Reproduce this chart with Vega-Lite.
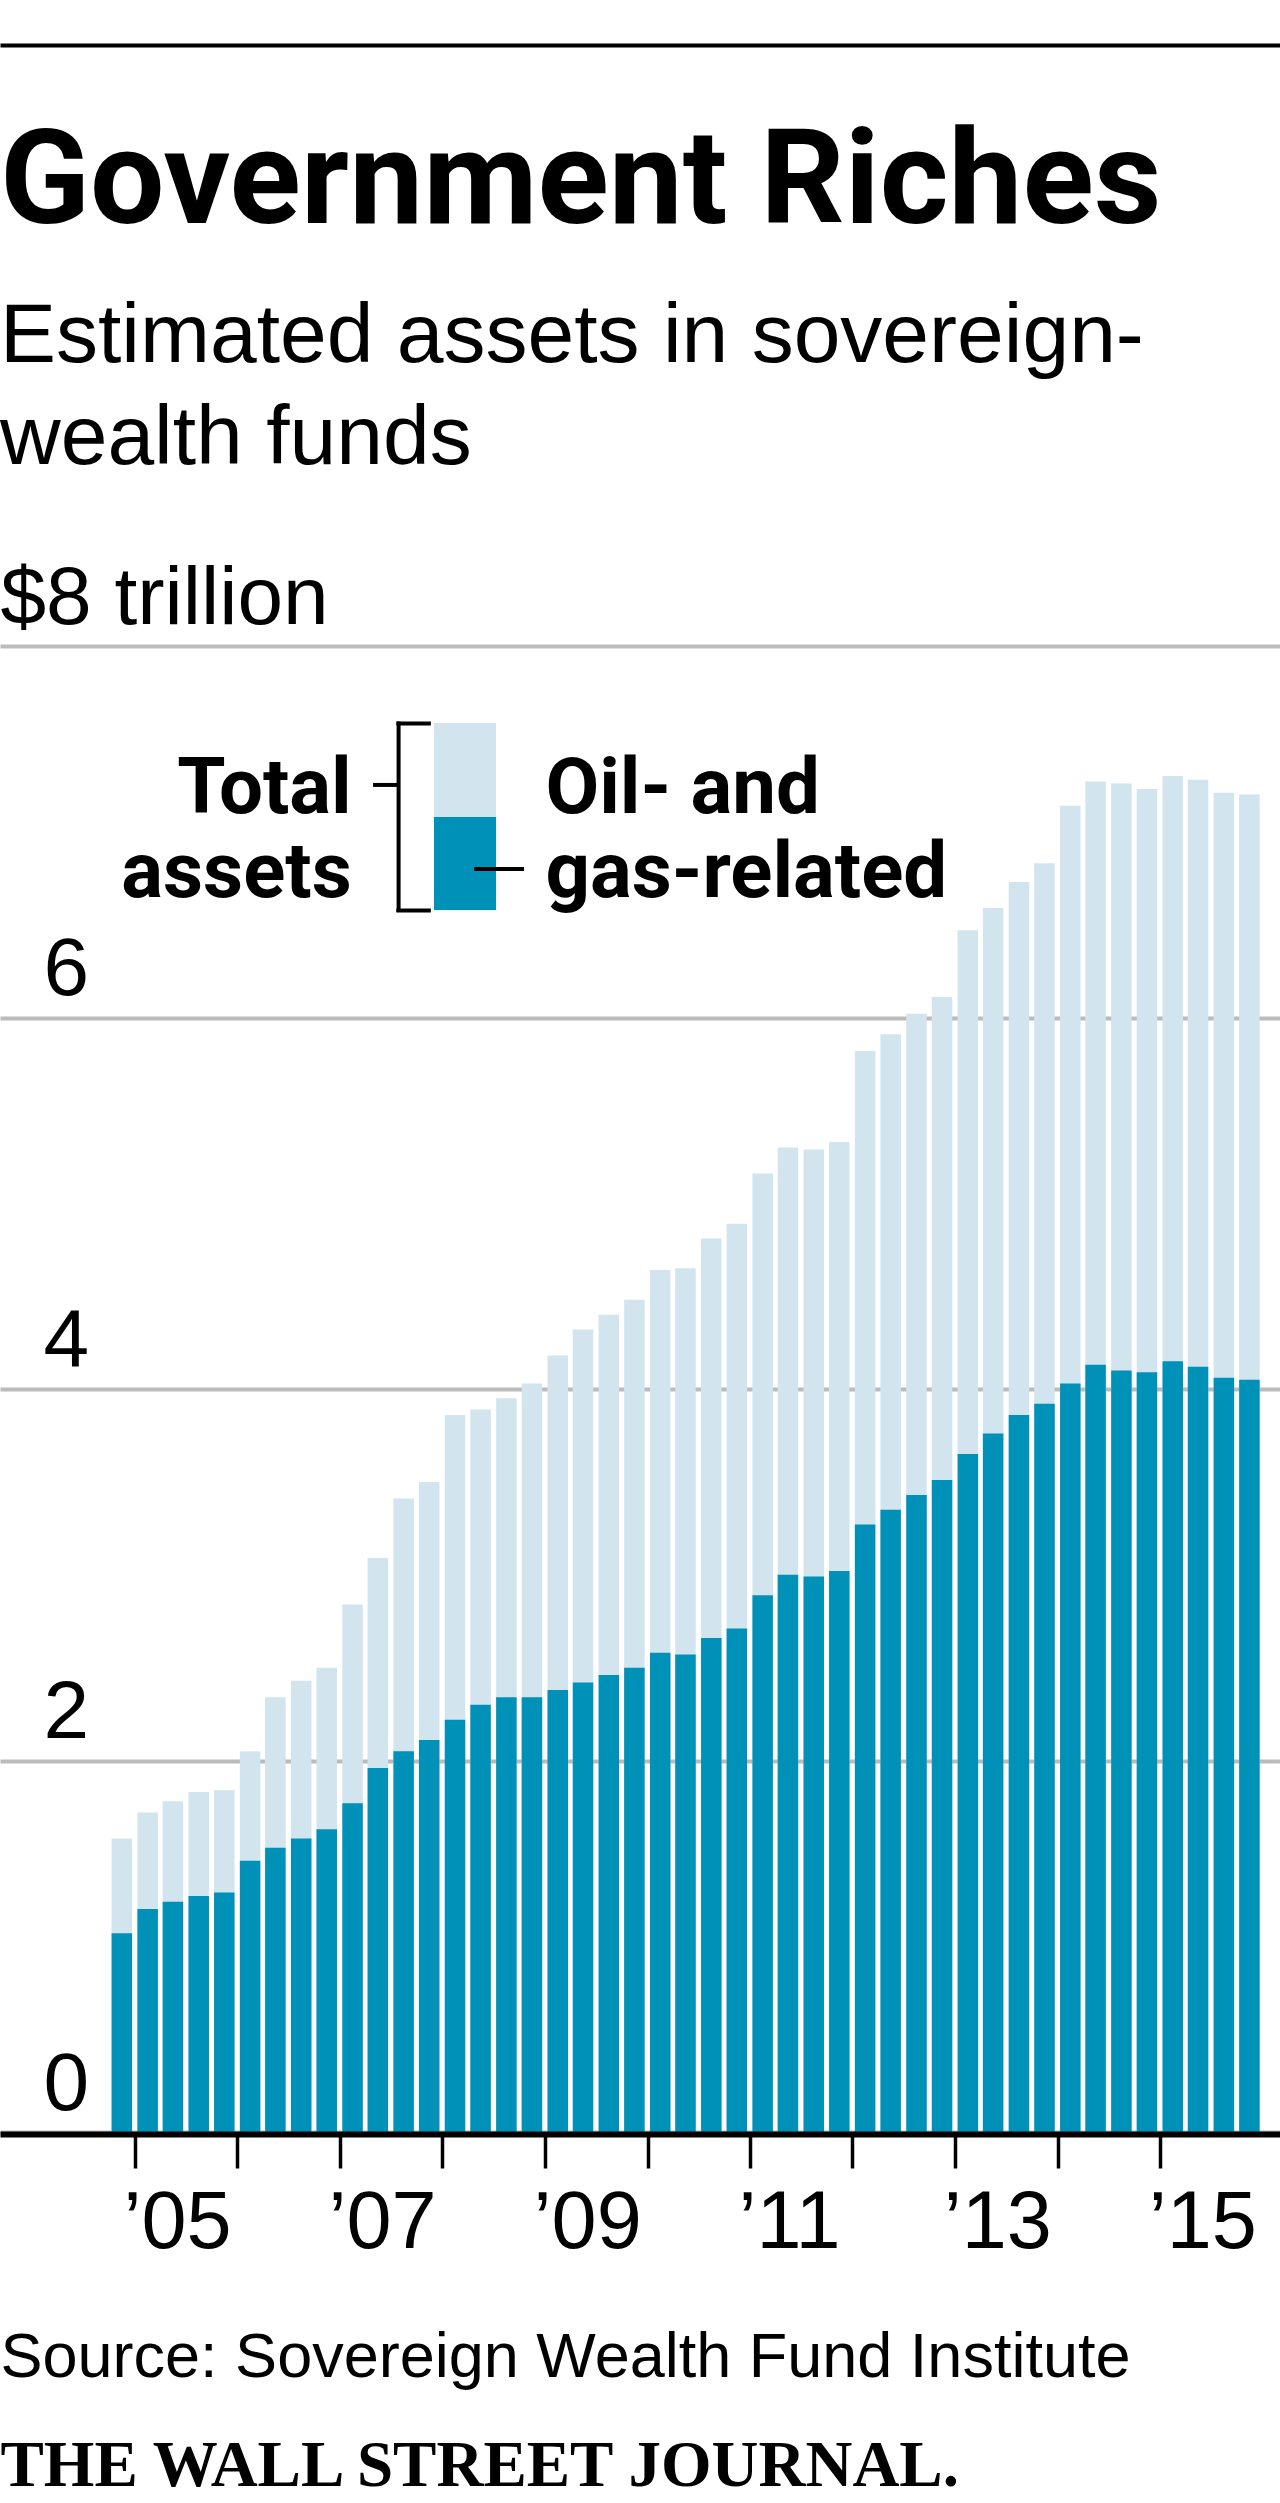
{
  "$schema": "https://vega.github.io/schema/vega-lite/v6.json",
  "width": 1280,
  "height": 1486,
  "autosize": {"type": "pad"},
  "padding": {"left": 0, "right": 0, "top": 45, "bottom": 0},
  "background": "white",
  "config": {"view": {"stroke": null}},
  "title": {
    "text": "Government Riches",
    "subtitle": ["Estimated assets in sovereign-", "wealth funds"],
    "anchor": "start",
    "frame": "group",
    "offset": -438,
    "font": "Roboto, Liberation Sans, sans-serif",
    "fontSize": 132,
    "fontWeight": "bold",
    "color": "black",
    "subtitleFont": "Liberation Sans, Arial, sans-serif",
    "subtitleFontSize": 84,
    "subtitleColor": "black",
    "subtitleLineHeight": 102,
    "subtitlePadding": 45
  },
  "data": {
    "values": [
      {"date": "2004-11-15", "total": 1.58, "oil": 1.07},
      {"date": "2005-02-15", "total": 1.72, "oil": 1.20},
      {"date": "2005-05-16", "total": 1.78, "oil": 1.24},
      {"date": "2005-08-16", "total": 1.83, "oil": 1.27},
      {"date": "2005-11-15", "total": 1.84, "oil": 1.29},
      {"date": "2006-02-15", "total": 2.05, "oil": 1.46},
      {"date": "2006-05-16", "total": 2.34, "oil": 1.53},
      {"date": "2006-08-16", "total": 2.43, "oil": 1.58},
      {"date": "2006-11-15", "total": 2.50, "oil": 1.63},
      {"date": "2007-02-15", "total": 2.84, "oil": 1.77},
      {"date": "2007-05-16", "total": 3.09, "oil": 1.96},
      {"date": "2007-08-16", "total": 3.41, "oil": 2.05},
      {"date": "2007-11-15", "total": 3.50, "oil": 2.11},
      {"date": "2008-02-15", "total": 3.86, "oil": 2.22},
      {"date": "2008-05-16", "total": 3.89, "oil": 2.30},
      {"date": "2008-08-16", "total": 3.95, "oil": 2.34},
      {"date": "2008-11-15", "total": 4.03, "oil": 2.34},
      {"date": "2009-02-15", "total": 4.18, "oil": 2.38},
      {"date": "2009-05-16", "total": 4.32, "oil": 2.42},
      {"date": "2009-08-16", "total": 4.40, "oil": 2.46},
      {"date": "2009-11-15", "total": 4.48, "oil": 2.50},
      {"date": "2010-02-15", "total": 4.64, "oil": 2.58},
      {"date": "2010-05-16", "total": 4.65, "oil": 2.57},
      {"date": "2010-08-16", "total": 4.81, "oil": 2.66},
      {"date": "2010-11-15", "total": 4.89, "oil": 2.71},
      {"date": "2011-02-15", "total": 5.16, "oil": 2.89},
      {"date": "2011-05-16", "total": 5.30, "oil": 3.00},
      {"date": "2011-08-16", "total": 5.29, "oil": 2.99},
      {"date": "2011-11-15", "total": 5.33, "oil": 3.02},
      {"date": "2012-02-15", "total": 5.82, "oil": 3.27},
      {"date": "2012-05-16", "total": 5.91, "oil": 3.35},
      {"date": "2012-08-16", "total": 6.02, "oil": 3.43},
      {"date": "2012-11-15", "total": 6.11, "oil": 3.51},
      {"date": "2013-02-15", "total": 6.47, "oil": 3.65},
      {"date": "2013-05-16", "total": 6.59, "oil": 3.76},
      {"date": "2013-08-16", "total": 6.73, "oil": 3.86},
      {"date": "2013-11-15", "total": 6.83, "oil": 3.92},
      {"date": "2014-02-15", "total": 7.14, "oil": 4.03},
      {"date": "2014-05-16", "total": 7.27, "oil": 4.13},
      {"date": "2014-08-16", "total": 7.26, "oil": 4.10},
      {"date": "2014-11-15", "total": 7.23, "oil": 4.09},
      {"date": "2015-02-15", "total": 7.30, "oil": 4.15},
      {"date": "2015-05-16", "total": 7.28, "oil": 4.12},
      {"date": "2015-08-16", "total": 7.21, "oil": 4.06},
      {"date": "2015-11-15", "total": 7.20, "oil": 4.05}
    ]
  },
  "resolve": {"axis": {"x": "independent", "y": "independent"}},
  "layer": [
    {
      "mark": {"type": "bar", "width": 20.5, "color": "#d2e4ee"},
      "encoding": {
        "x": {
          "field": "date", "type": "temporal",
          "scale": {"type": "utc", "nice": false, "padding": 0,
            "domain": [{"year": 2003, "month": 9, "date": 8, "utc": true}, {"year": 2016, "month": 3, "date": 3, "utc": true}]},
          "axis": {
            "orient": "bottom",
            "values": [
              {"year": 2005, "month": 1, "date": 1, "utc": true},
              {"year": 2006, "month": 1, "date": 1, "utc": true},
              {"year": 2007, "month": 1, "date": 1, "utc": true},
              {"year": 2008, "month": 1, "date": 1, "utc": true},
              {"year": 2009, "month": 1, "date": 1, "utc": true},
              {"year": 2010, "month": 1, "date": 1, "utc": true},
              {"year": 2011, "month": 1, "date": 1, "utc": true},
              {"year": 2012, "month": 1, "date": 1, "utc": true},
              {"year": 2013, "month": 1, "date": 1, "utc": true},
              {"year": 2014, "month": 1, "date": 1, "utc": true},
              {"year": 2015, "month": 1, "date": 1, "utc": true}
            ],
            "labelExpr": "utcyear(datum.value) % 2 == 1 ? '\u2019' + utcFormat(datum.value, '%y') : ''",
            "offset": 2,
            "zindex": 1,
            "grid": false,
            "domain": true, "domainColor": "black", "domainWidth": 6,
            "ticks": true, "tickColor": "black", "tickWidth": 3.5, "tickSize": 34,
            "labelFont": "Liberation Sans, Arial, sans-serif", "labelFontSize": 81, "labelColor": "black",
            "labelAlign": "left", "labelBaseline": "alphabetic", "labelPadding": 79, "labelOffset": -12,
            "labelFlush": false, "labelOverlap": false, "labelBound": false, "labelLimit": 0,
            "title": "Source: Sovereign Wealth Fund Institute",
            "titleFont": "Liberation Sans, Arial, sans-serif", "titleFontSize": 63,
            "titleFontWeight": "normal", "titleColor": "black",
            "titleAnchor": "start", "titleAlign": "left", "titleBaseline": "alphabetic",
            "titlePadding": 113, "titleLimit": 0
          }
        },
        "y": {
          "field": "total", "type": "quantitative",
          "scale": {"domain": [0, 8], "nice": false, "zero": true},
          "axis": {
            "orient": "left",
            "values": [0, 2, 4, 6, 8],
            "grid": true, "gridColor": "#bbbbbb", "gridWidth": 4,
            "domain": false, "ticks": false,
            "labelFont": "Liberation Sans, Arial, sans-serif", "labelFontSize": 82, "labelColor": "black",
            "labelAlign": "left", "labelBaseline": "alphabetic",
            "labelPadding": -43,
            "labelOffset": -23,
            "labelExpr": "datum.value == 8 ? '' : datum.label",
            "labelOverlap": false, "labelLimit": 1000,
            "title": null
          }
        }
      }
    },
    {
      "mark": {"type": "bar", "width": 20.5, "color": "#0091b9"},
      "encoding": {
        "x": {
          "field": "date", "type": "temporal",
          "scale": {"type": "utc"},
          "axis": {
            "orient": "top", "offset": 601,
            "domain": true, "domainColor": "black", "domainWidth": 4,
            "ticks": false, "labels": false, "grid": false, "title": null
          }
        },
        "y": {
          "field": "oil", "type": "quantitative",
          "axis": {
            "orient": "left",
            "values": [8],
            "grid": false, "domain": false, "ticks": false,
            "labelFont": "Liberation Sans, Arial, sans-serif", "labelFontSize": 82, "labelColor": "black",
            "labelAlign": "left", "labelBaseline": "alphabetic",
            "labelPadding": 0,
            "labelOffset": -23,
            "labelExpr": "'$8 trillion'",
            "labelOverlap": false, "labelLimit": 1000,
            "title": null
          }
        }
      }
    },
    {
      "data": {"values": [{}]},
      "mark": {"type": "rect", "color": "#d2e4ee"},
      "encoding": {
        "x": {"datum": {"year": 2007, "month": 12, "date": 2, "utc": true}, "type": "temporal", "scale": {"type": "utc"}, "axis": null},
        "x2": {"datum": {"year": 2008, "month": 7, "date": 10, "utc": true}},
        "y": {"datum": 7.585, "type": "quantitative", "axis": null},
        "y2": {"datum": 7.08}
      }
    },
    {
      "data": {"values": [{}]},
      "mark": {"type": "rect", "color": "#0091b9"},
      "encoding": {
        "x": {"datum": {"year": 2007, "month": 12, "date": 2, "utc": true}, "type": "temporal", "scale": {"type": "utc"}, "axis": null},
        "x2": {"datum": {"year": 2008, "month": 7, "date": 10, "utc": true}},
        "y": {"datum": 7.08, "type": "quantitative", "axis": null},
        "y2": {"datum": 6.579}
      }
    },
    {
      "data": {"values": [{}]},
      "mark": {"type": "rule", "color": "black", "strokeWidth": 4},
      "encoding": {
        "x": {"datum": {"year": 2007, "month": 7, "date": 29, "utc": true}, "type": "temporal", "scale": {"type": "utc"}, "axis": null},
        "y": {"datum": 7.594, "type": "quantitative", "axis": null},
        "y2": {"datum": 6.568}
      }
    },
    {
      "data": {"values": [{}]},
      "mark": {"type": "rule", "color": "black", "strokeWidth": 4},
      "encoding": {
        "x": {"datum": {"year": 2007, "month": 7, "date": 21, "utc": true}, "type": "temporal", "scale": {"type": "utc"}, "axis": null},
        "x2": {"datum": {"year": 2007, "month": 11, "date": 21, "utc": true}},
        "y": {"datum": 7.583, "type": "quantitative", "axis": null}
      }
    },
    {
      "data": {"values": [{}]},
      "mark": {"type": "rule", "color": "black", "strokeWidth": 4},
      "encoding": {
        "x": {"datum": {"year": 2007, "month": 7, "date": 21, "utc": true}, "type": "temporal", "scale": {"type": "utc"}, "axis": null},
        "x2": {"datum": {"year": 2007, "month": 11, "date": 21, "utc": true}},
        "y": {"datum": 6.576, "type": "quantitative", "axis": null}
      }
    },
    {
      "data": {"values": [{}]},
      "mark": {"type": "rule", "color": "black", "strokeWidth": 4},
      "encoding": {
        "x": {"datum": {"year": 2007, "month": 4, "date": 29, "utc": true}, "type": "temporal", "scale": {"type": "utc"}, "axis": null},
        "x2": {"datum": {"year": 2007, "month": 7, "date": 25, "utc": true}},
        "y": {"datum": 7.252, "type": "quantitative", "axis": null}
      }
    },
    {
      "data": {"values": [{}]},
      "mark": {"type": "rule", "color": "black", "strokeWidth": 4},
      "encoding": {
        "x": {"datum": {"year": 2008, "month": 4, "date": 23, "utc": true}, "type": "temporal", "scale": {"type": "utc"}, "axis": null},
        "x2": {"datum": {"year": 2008, "month": 10, "date": 18, "utc": true}},
        "y": {"datum": 6.8, "type": "quantitative", "axis": null}
      }
    },
    {
      "data": {"values": [{}]},
      "mark": {"type": "text", "text": ["Total", "assets"], "align": "right", "baseline": "alphabetic",
        "font": "Roboto, Liberation Sans, sans-serif", "fontSize": 78, "fontWeight": "bold",
        "lineHeight": 84, "color": "black"},
      "encoding": {
        "x": {"datum": {"year": 2007, "month": 2, "date": 12, "utc": true}, "type": "temporal", "scale": {"type": "utc"}, "axis": null},
        "y": {"datum": 7.101, "type": "quantitative", "axis": null}
      }
    },
    {
      "data": {"values": [{}]},
      "mark": {"type": "text", "text": ["Oil- and", "gas-related"], "align": "left", "baseline": "alphabetic",
        "font": "Roboto, Liberation Sans, sans-serif", "fontSize": 78, "fontWeight": "bold",
        "lineHeight": 84, "color": "black"},
      "encoding": {
        "x": {
          "datum": {"year": 2009, "month": 1, "date": 2, "utc": true}, "type": "temporal", "scale": {"type": "utc"},
          "axis": {
            "orient": "bottom", "offset": 0,
            "domain": false, "labels": false, "grid": false,
            "ticks": true, "tickSize": 0, "tickOpacity": 0, "tickWidth": 0,
            "title": "THE WALL STREET JOURNAL.",
            "titleFont": "Liberation Serif, Times New Roman, serif", "titleFontSize": 65,
            "titleFontWeight": "bold", "titleColor": "black",
            "titleAnchor": "start", "titleAlign": "left", "titleBaseline": "alphabetic",
            "titlePadding": 353, "titleLimit": 0
          }
        },
        "y": {"datum": 7.101, "type": "quantitative", "axis": null}
      }
    }
  ]
}
